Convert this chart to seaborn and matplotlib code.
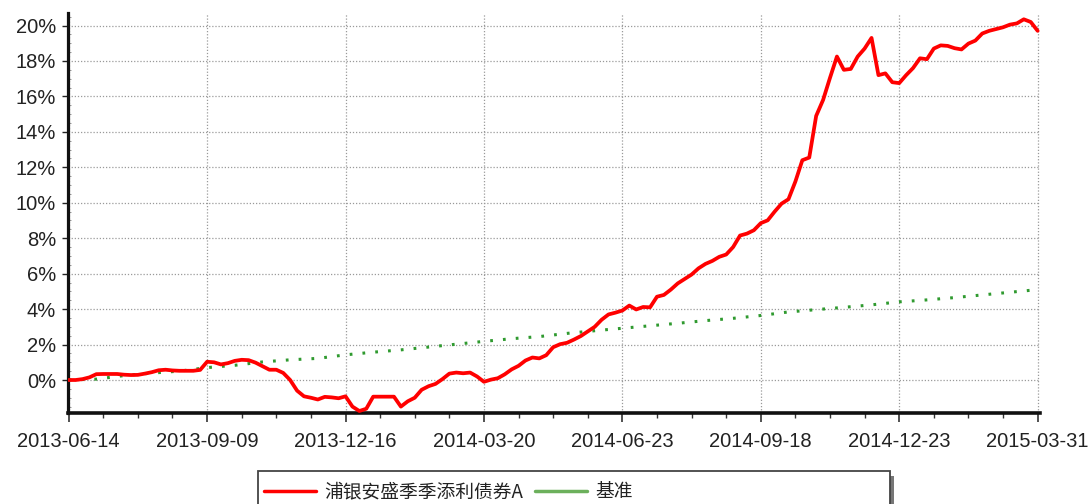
# ========== Libraries ==========

import numpy as np
import pandas as pd
import matplotlib
matplotlib.use('Agg')
import matplotlib.pyplot as plt
from matplotlib.lines import Line2D
from matplotlib.patches import Rectangle
from matplotlib.ticker import MultipleLocator, FuncFormatter
import seaborn as sns


# ========== Data ==========

# x axis is a trading-day style index: 20 steps between labelled dates
date_labels = ['2013-06-14', '2013-09-09', '2013-12-16', '2014-03-20',
               '2014-06-23', '2014-09-18', '2014-12-23', '2015-03-31']
steps_per_label = 20

fund_name = '浦银安盛季季添利债券A'
bench_name = '基准'

# cumulative return of the fund (%), one value per step
fund_ret = [
    0.00, 0.00, 0.05, 0.15, 0.33, 0.34, 0.34, 0.34, 0.30, 0.28,
    0.29, 0.36, 0.44, 0.55, 0.58, 0.54, 0.52, 0.52, 0.52, 0.57,
    1.03, 1.00, 0.88, 0.95, 1.08, 1.14, 1.12, 0.98, 0.78, 0.58,
    0.58, 0.40, 0.00, -0.60, -0.92, -1.00, -1.10, -0.95, -0.98, -1.03,
    -0.92, -1.50, -1.75, -1.62, -0.94, -0.94, -0.94, -0.94, -1.50, -1.20,
    -1.00, -0.55, -0.35, -0.22, 0.05, 0.36, 0.42, 0.38, 0.42, 0.20,
    -0.10, 0.02, 0.10, 0.32, 0.60, 0.80, 1.10, 1.27, 1.22, 1.40,
    1.85, 2.02, 2.10, 2.28, 2.48, 2.74, 3.00, 3.40, 3.70, 3.80,
    3.92, 4.20, 3.98, 4.12, 4.10, 4.70, 4.80, 5.10, 5.45, 5.70,
    5.95, 6.30, 6.55, 6.72, 6.95, 7.08, 7.50, 8.15, 8.26, 8.45,
    8.85, 9.01, 9.50, 9.95, 10.20, 11.20, 12.40, 12.55, 14.90, 15.80,
    17.05, 18.25, 17.50, 17.55, 18.25, 18.70, 19.30, 17.20, 17.30, 16.80,
    16.75, 17.20, 17.60, 18.15, 18.10, 18.70, 18.88, 18.85, 18.72, 18.65,
    18.98, 19.15, 19.55, 19.70, 19.80, 19.90, 20.05, 20.12, 20.35, 20.20,
    19.70,
]

# benchmark return (%), one value every 4 steps
bench_every = 4
bench_ret = [
    0.00, 0.05, 0.25, 0.39, 0.50, 0.70, 0.83, 1.02, 1.14, 1.22,
    1.42, 1.57, 1.70, 1.86, 2.02, 2.18, 2.33, 2.45, 2.63, 2.78,
    2.92, 3.06, 3.20, 3.35, 3.48, 3.64, 3.84, 3.97, 4.10, 4.24,
    4.41, 4.52, 4.65, 4.80, 4.95, 5.10,
]

fund_df = pd.DataFrame({'step': np.arange(len(fund_ret)), 'ret': fund_ret})
bench_df = pd.DataFrame({'step': np.arange(len(bench_ret)) * bench_every, 'ret': bench_ret})


# ========== Plot ==========

sns.set_style('white')
plt.rcParams['font.family'] = ['Liberation Sans', 'Noto Sans CJK SC', 'DejaVu Sans']

fig = plt.figure(figsize=(10.91, 5.04), dpi=100)
ax = fig.add_axes([0.0623, 0.1806, 0.8907, 0.7934])

# benchmark first so the fund line sits on top
sns.lineplot(data=bench_df, x='step', y='ret', ax=ax, color='#2f9a2f',
             linewidth=2.2, linestyle=(0, (0.9, 3.3)), zorder=3)
sns.lineplot(data=fund_df, x='step', y='ret', ax=ax, color='#ff0000',
             linewidth=2.7, zorder=4)

n_steps = steps_per_label * (len(date_labels) - 1)
ax.set_xlim(-0.1, n_steps + 0.3)
ax.set_ylim(-1.86, 20.7)

# ticks
ax.set_xticks(np.arange(len(date_labels)) * steps_per_label)
ax.set_xticklabels(date_labels)
ax.xaxis.set_minor_locator(MultipleLocator(steps_per_label / 4))
ax.yaxis.set_major_formatter(FuncFormatter(lambda v, _: f'{v:.0f}%'))
ax.set_yticks(np.arange(0, 21, 2))
ax.yaxis.set_minor_locator(MultipleLocator(0.5))

ax.tick_params(axis='x', which='major', direction='out', length=6.5, width=1.1,
               pad=7, labelsize=14.5, colors='#222222', bottom=True)
ax.tick_params(axis='x', which='minor', direction='out', length=3.5, width=1.0,
               bottom=True, colors='#333333')
ax.tick_params(axis='y', which='major', direction='out', length=4.5, width=1.0,
               pad=4, labelsize=14.5, colors='#222222', left=True)
ax.tick_params(axis='y', which='minor', direction='in', length=2, width=0.6,
               left=True, colors='#888888')

# grid
ax.grid(True, which='major', axis='both', linestyle=(0, (1, 1.5)),
        color='#9a9a9a', linewidth=0.9)
ax.set_axisbelow(True)

# spines
for side in ['top', 'right']:
    ax.spines[side].set_visible(False)
ax.spines['left'].set_linewidth(2.3)
ax.spines['left'].set_color('#111111')
ax.spines['bottom'].set_linewidth(2.6)
ax.spines['bottom'].set_color('#111111')

ax.set_xlabel('')
ax.set_ylabel('')

# legend box (wider than its contents, with a shadow on the right)
box_x0, box_y0, box_w, box_h = 258 / 1091, -0.05, 632 / 1091, 0.115
shadow = Rectangle((box_x0 + 0.004, box_y0 - 0.01), box_w, box_h,
                   transform=fig.transFigure, facecolor='#777777',
                   edgecolor='none', zorder=1)
frame = Rectangle((box_x0, box_y0), box_w, box_h, transform=fig.transFigure,
                  facecolor='white', edgecolor='#444444', linewidth=1.3, zorder=2)
fig.patches.extend([shadow, frame])

handles = [Line2D([0], [0], color='#ff0000', linewidth=2.5),
           Line2D([0], [0], color='#6cb05c', linewidth=2.5)]
leg = fig.legend(handles, [fund_name, bench_name], loc='center left',
                 bbox_to_anchor=(258 / 1091, 1 - 492 / 504), ncol=2, frameon=False,
                 prop={'family': ['Noto Sans CJK SC', 'DejaVu Sans'], 'size': 13.5},
                 handlelength=2.8, handletextpad=0.45, columnspacing=0.6,
                 borderaxespad=0, borderpad=0.3)
for t in leg.get_texts():
    t.set_color('#222222')

fig.savefig('out.png', dpi=100)
